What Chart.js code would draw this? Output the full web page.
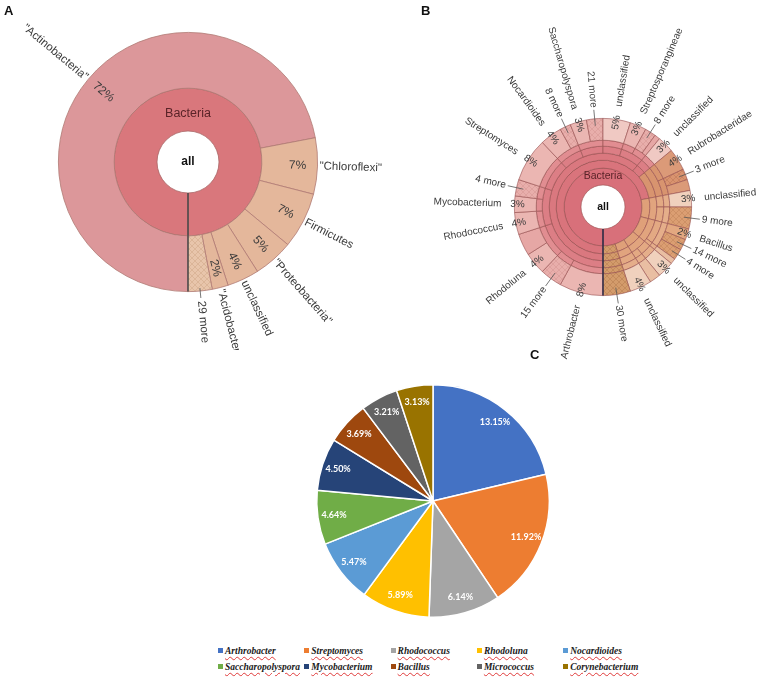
<!DOCTYPE html>
<html>
<head>
<meta charset="utf-8">
<script src="https://cdn.jsdelivr.net/npm/chart.js@4.4.0/dist/chart.umd.min.js"></script>
<style>
  body { margin: 0; background: #fff; }
  #wrap { position: relative; width: 767px; height: 677px; overflow: hidden; }
  canvas { position: absolute; }
  .tag { position: absolute; font: bold 13px "Liberation Sans", Arial, sans-serif; color: #111; }
  .lg { position: absolute; white-space: nowrap; font: italic bold 9.5px "Liberation Serif", "Times New Roman", serif; color: #1a1a1a; }
  .lg .box { display: inline-block; width: 5px; height: 5px; margin-right: 2px; vertical-align: 1px; }
  .lg .txt { text-decoration: underline wavy #e03a3a; text-decoration-thickness: 0.5px; text-underline-offset: 2px; }
</style>
</head>
<body>
<div id="wrap">
  <canvas id="krA" width="385" height="350" style="left:0;top:0"></canvas>
  <canvas id="krB" width="382" height="380" style="left:385px;top:0"></canvas>
  <canvas id="pieC" width="260" height="260" style="left:303px;top:371px"></canvas>
  <div class="tag" style="left:4px;top:3px">A</div>
  <div class="tag" style="left:421px;top:3px">B</div>
  <div class="tag" style="left:530px;top:347px">C</div>
  <div id="legend"></div>
</div>
<script>
// panel A: phyla, clockwise from 6 o'clock
const phylumLabels = ['"Actinobacteria"', '"Chloroflexi"', 'Firmicutes', '"Proteobacteria"', 'unclassified', '"Acidobacteria"', '29 more'];
const phylumValues = [72, 7, 7, 5, 4, 2, 3];

// panel B: genus ring, clockwise from 6 o'clock ('' = unlabelled wedge)
const genusLabels = ['Arthrobacter', '15 more', 'Rhodoluna', '', 'Rhodococcus', 'Mycobacterium', '4 more',
  'Streptomyces', 'Nocardioides', '8 more', 'Saccharopolyspora', '21 more', 'unclassified',
  'Streptosporangineae', '8 more', '', 'unclassified', 'Rubrobacteridae', '3 more', '',
  'unclassified', '9 more', 'Bacillus', '14 more', '4 more', '', 'unclassified', '', 'unclassified', '30 more'];
const genusValues = [8, 4, 4, 4, 4, 3, 3, 8, 4, 2, 3, 3, 5, 3, 2, 1, 3, 4, 2, 2, 3, 4, 2, 2, 2, 1, 3, 2, 4, 5];
// inner rings of panel B
const familyValues = [8, 4, 8, 4, 3, 3, 8, 6, 6, 5, 3, 3, 3, 4, 4, 3, 4, 6, 1, 3, 2, 4, 5];
const orderValues = [20, 10, 8, 6, 6, 5, 6, 3, 8, 3, 4, 6, 1, 3, 2, 4, 5];
const classValues = [61, 3, 8, 7, 7, 5, 4, 5];
const bPhylumValues = [72, 7, 7, 5, 4, 5];

// panel C
const pieLabels = ['Arthrobacter', 'Streptomyces', 'Rhodococcus', 'Rhodoluna', 'Nocardioides',
  'Saccharopolyspora', 'Mycobacterium', 'Bacillus', 'Micrococcus', 'Corynebacterium'];
const pieValues = [13.15, 11.92, 6.14, 5.89, 5.47, 4.64, 4.50, 3.69, 3.21, 3.13];
const pieColors = ['#4472c4', '#ed7d31', '#a5a5a5', '#ffc000', '#5b9bd5', '#70ad47', '#264478', '#9e480e', '#636363', '#997300'];

const FONT = '"Liberation Sans", Arial, sans-serif';

function hatch(base, line) {
  const c = document.createElement('canvas');
  c.width = c.height = 6;
  const g = c.getContext('2d');
  g.fillStyle = base;
  g.fillRect(0, 0, 6, 6);
  g.strokeStyle = line;
  g.lineWidth = 0.6;
  g.beginPath();
  g.moveTo(0, 0); g.lineTo(6, 6);
  g.moveTo(6, 0); g.lineTo(0, 6);
  g.stroke();
  return g.createPattern(c, 'repeat');
}

// text along the radius; left half is flipped so it stays readable
function radialText(ctx, cx, cy, a, r, text, centered) {
  ctx.save();
  ctx.translate(cx, cy);
  if (Math.cos(a) >= -0.001) {
    ctx.rotate(a);
    ctx.textAlign = centered ? 'center' : 'left';
    ctx.fillText(text, r, 0);
  } else {
    ctx.rotate(a + Math.PI);
    ctx.textAlign = centered ? 'center' : 'right';
    ctx.fillText(text, -r, 0);
  }
  ctx.restore();
}

const kronaText = {
  id: 'kronaText',
  afterDatasetsDraw(chart, args, o) {
    const ctx = chart.ctx;
    const ds = chart.data.datasets[0];
    const outer = chart.getDatasetMeta(0).data;
    const core = chart.getDatasetMeta(chart.data.datasets.length - 1).data[0];
    const cx = core.x, cy = core.y;
    ctx.save();
    ctx.textBaseline = 'middle';
    outer.forEach((arc, i) => {
      const name = ds.names[i];
      if (!name) return;
      const a = (arc.startAngle + arc.endAngle) / 2;
      const R = arc.outerRadius;
      ctx.fillStyle = '#3a3a3a';
      if (/ more$/.test(name)) {
        ctx.strokeStyle = '#555';
        ctx.lineWidth = 0.8;
        ctx.beginPath();
        ctx.moveTo(cx + Math.cos(a) * (R + o.lineIn), cy + Math.sin(a) * (R + o.lineIn));
        ctx.lineTo(cx + Math.cos(a) * (R + o.lineOut), cy + Math.sin(a) * (R + o.lineOut));
        ctx.stroke();
        ctx.font = o.nameFont;
        radialText(ctx, cx, cy, a, R + o.moreGap, name);
      } else {
        ctx.font = o.pctFont;
        radialText(ctx, cx, cy, a, R + o.pctAt, ds.data[i] + '%', true);
        ctx.font = o.nameFont;
        radialText(ctx, cx, cy, a, R + o.nameGap, name);
      }
    });
    // dark seam at 6 o'clock
    const a0 = outer[0].startAngle;
    ctx.strokeStyle = o.seam;
    ctx.lineWidth = 1.5;
    ctx.beginPath();
    ctx.moveTo(cx + Math.cos(a0) * core.innerRadius, cy + Math.sin(a0) * core.innerRadius);
    ctx.lineTo(cx + Math.cos(a0) * outer[0].outerRadius, cy + Math.sin(a0) * outer[0].outerRadius);
    ctx.stroke();
    ctx.textAlign = 'center';
    ctx.fillStyle = '#5a2328';
    ctx.font = o.bactFont;
    ctx.fillText('Bacteria', cx, cy - (core.innerRadius + (core.outerRadius - core.innerRadius) * o.bactPos));
    ctx.fillStyle = '#111';
    ctx.font = o.allFont;
    ctx.fillText('all', cx, cy);
    ctx.restore();
  }
};

// ---- panel A
const aColors = phylumValues.map((v, i) =>
  i === 0 ? '#dc979a' : (/ more$/.test(phylumLabels[i]) ? hatch('#e8c5ab', '#d2a98c') : '#e4b79b'));

new Chart(document.getElementById('krA'), {
  type: 'doughnut',
  data: {
    labels: phylumLabels,
    datasets: [
      { data: phylumValues, names: phylumLabels, backgroundColor: aColors, weight: 56, borderColor: '#b07a74', borderWidth: 0.8 },
      { data: [100], backgroundColor: '#d9777c', weight: 43, borderColor: '#a86464', borderWidth: 0.8 }
    ]
  },
  options: {
    responsive: false, animation: false, rotation: 180, cutout: 31,
    layout: { padding: { left: 58, right: 67, top: 32, bottom: 58 } },
    plugins: {
      legend: { display: false }, tooltip: { enabled: false },
      kronaText: {
        nameFont: '11.5px ' + FONT, pctFont: '12px ' + FONT, bactFont: '12.5px ' + FONT, allFont: 'bold 12px ' + FONT,
        pctAt: -20, nameGap: 2, moreGap: 10, lineIn: -3, lineOut: 7, bactPos: 0.4, seam: '#4a4a4a'
      }
    }
  },
  plugins: [kronaText]
});

// ---- panel B
const pinkShades = [null, '#d9747c', '#da787f', '#dc7e85', '#e18d91', '#ebb6b2'];
const peachShades = [null, '#dfa079', '#e1a47e', '#e3a983', '#e5ae8a', '#e3a880'];

function bColors(values, level, names) {
  let cum = 0;
  return values.map((v, i) => {
    const mid = cum + v / 2;
    cum += v;
    const nm = names ? names[i] : null;
    if (mid > 95) return hatch('#d39b6b', '#b98052');
    if (mid < 72) {
      if (level >= 2 && mid > 64) {
        if (level === 5 && / more$/.test(nm)) return hatch('#d9936f', '#c07a58');
        return level === 5 ? '#db9a78' : '#d8946f';
      }
      if (level === 5) {
        if (nm === 'unclassified') return '#f0c9c3';
        if (/ more$/.test(nm)) return hatch('#e8aeab', '#d69996');
        if (nm === '') return '#e6a7a5';
      }
      return pinkShades[level];
    }
    if (level === 5) {
      if (nm === 'unclassified') return '#f0d1bd';
      if (/ more$/.test(nm)) return hatch('#db9e72', '#c4875c');
      if (nm === '') return '#e9bea2';
    }
    return peachShades[level];
  });
}

const bBorder = { borderColor: 'rgba(150,78,78,0.75)', borderWidth: 0.8 };
new Chart(document.getElementById('krB'), {
  type: 'doughnut',
  data: {
    labels: genusLabels,
    datasets: [
      Object.assign({ data: genusValues, names: genusLabels, backgroundColor: bColors(genusValues, 5, genusLabels), weight: 22 }, bBorder),
      Object.assign({ data: familyValues, backgroundColor: bColors(familyValues, 4), weight: 6 }, bBorder),
      Object.assign({ data: orderValues, backgroundColor: bColors(orderValues, 3), weight: 7 }, bBorder),
      Object.assign({ data: classValues, backgroundColor: bColors(classValues, 2), weight: 7 }, bBorder),
      Object.assign({ data: bPhylumValues, backgroundColor: bColors(bPhylumValues, 1), weight: 8 }, bBorder),
      Object.assign({ data: [100], backgroundColor: '#d8707a', weight: 17 }, bBorder)
    ]
  },
  options: {
    responsive: false, animation: false, rotation: 180, cutout: 22,
    layout: { padding: { left: 129, right: 75, top: 118, bottom: 84 } },
    plugins: {
      legend: { display: false }, tooltip: { enabled: false },
      kronaText: {
        nameFont: '10px ' + FONT, pctFont: '10px ' + FONT, bactFont: '10.5px ' + FONT, allFont: 'bold 10.5px ' + FONT,
        pctAt: -3, nameGap: 13, moreGap: 11, lineIn: -7, lineOut: 9, bactPos: 0.5, seam: '#2c2c48'
      }
    }
  },
  plugins: [kronaText]
});

// ---- panel C
const pieText = {
  id: 'pieText',
  afterDatasetsDraw(chart) {
    const ctx = chart.ctx;
    ctx.save();
    ctx.font = 'bold 9px Lato, "Open Sans", sans-serif';
    ctx.fillStyle = '#fff';
    ctx.textAlign = 'center';
    ctx.textBaseline = 'middle';
    chart.getDatasetMeta(0).data.forEach((arc, i) => {
      const a = (arc.startAngle + arc.endAngle) / 2;
      const r = arc.outerRadius * 0.86;
      ctx.fillText(pieValues[i].toFixed(2) + '%', arc.x + Math.cos(a) * r, arc.y + Math.sin(a) * r);
    });
    ctx.restore();
  }
};

new Chart(document.getElementById('pieC'), {
  type: 'pie',
  data: {
    labels: pieLabels,
    datasets: [{ data: pieValues, backgroundColor: pieColors, borderColor: '#fff', borderWidth: 1.5 }]
  },
  options: {
    responsive: false, animation: false,
    layout: { padding: 13 },
    plugins: { legend: { display: false }, tooltip: { enabled: false } }
  },
  plugins: [pieText]
});

// legend for C: two rows of five
const legend = document.getElementById('legend');
pieLabels.forEach((name, i) => {
  const el = document.createElement('div');
  el.className = 'lg';
  el.style.left = (218 + (i % 5) * 86.3) + 'px';
  el.style.top = (646 + Math.floor(i / 5) * 15.5) + 'px';
  el.innerHTML = '<span class="box" style="background:' + pieColors[i] + '"></span><span class="txt">' + name + '</span>';
  legend.appendChild(el);
});
</script>
</body>
</html>
